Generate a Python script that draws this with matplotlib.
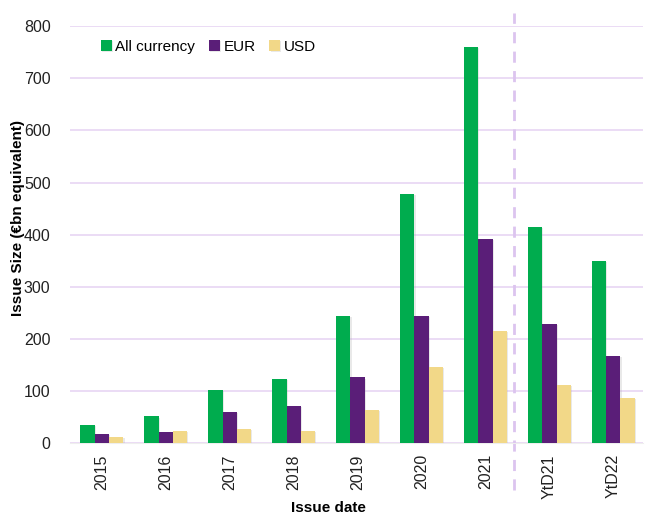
import matplotlib.pyplot as plt
import matplotlib.patheffects as pe
import numpy as np

plt.rcParams['font.family'] = ['Liberation Sans', 'DejaVu Sans']

# issue sizes, EUR bn equivalent
periods = ['2015', '2016', '2017', '2018', '2019', '2020', '2021', 'YtD21', 'YtD22']
all_ccy = [35, 51, 102, 123, 244, 478, 760, 414, 349]
eur = [17, 21, 60, 72, 126, 244, 391, 228, 168]
usd = [11, 23, 27, 24, 63, 146, 215, 112, 86]

series = [('All currency', all_ccy, '#00ac4e'),
          ('EUR', eur, '#5a1e78'),
          ('USD', usd, '#f2d888')]

fig = plt.figure(figsize=(6.45, 5.14), dpi=100)
ax = fig.add_axes([0.1085, 0.138, 0.888, 0.811])

x = np.arange(len(periods))
w = 0.224
shadow = [pe.SimplePatchShadow(offset=(0.8, -0.8), shadow_rgbFace='#aaaaaa', alpha=0.25), pe.Normal()]
for k, (name, vals, col) in enumerate(series):
    bars = ax.bar(x + (k - 1) * w, vals, w, color=col, label=name, zorder=3)
    for b in bars:
        b.set_path_effects(shadow)

ax.set_ylim(0, 800)
ax.set_xlim(-0.5, 8.46)
ax.set_yticks(range(0, 801, 100))
ax.set_xticks(x)
ax.set_xticklabels(periods, rotation=90)
ax.yaxis.grid(True, color='#e8d6f4', linewidth=1.2, zorder=0)
ax.tick_params(axis='both', length=0, labelsize=11.5, colors='#222222')
ax.tick_params(axis='y', pad=14)
ax.tick_params(axis='x', pad=8)
for s in ['top', 'right', 'left']:
    ax.spines[s].set_visible(False)
ax.spines['bottom'].set_color('#eeeeee')

# separator between full years and year-to-date
ax.plot([6.44, 6.44], [-0.113, 1.031], transform=ax.get_xaxis_transform(), clip_on=False,
        color='#dcc4ef', linewidth=2, linestyle=(0, (4, 3)), zorder=2)

ax.set_ylabel('Issue Size (€bn equivalent)', fontsize=11, fontweight='bold', va='center')
ax.set_xlabel('Issue date', fontsize=11, fontweight='bold', va='center')
ax.yaxis.set_label_coords(-0.09, 0.54)
ax.xaxis.set_label_coords(0.452, -0.156)

ax.legend(loc='upper left', bbox_to_anchor=(0.03, 1.0), ncol=3, frameon=False, fontsize=11,
          handlelength=0.7, handleheight=0.7, handletextpad=0.25, columnspacing=0.9)

fig.savefig('out.png', dpi=100)
